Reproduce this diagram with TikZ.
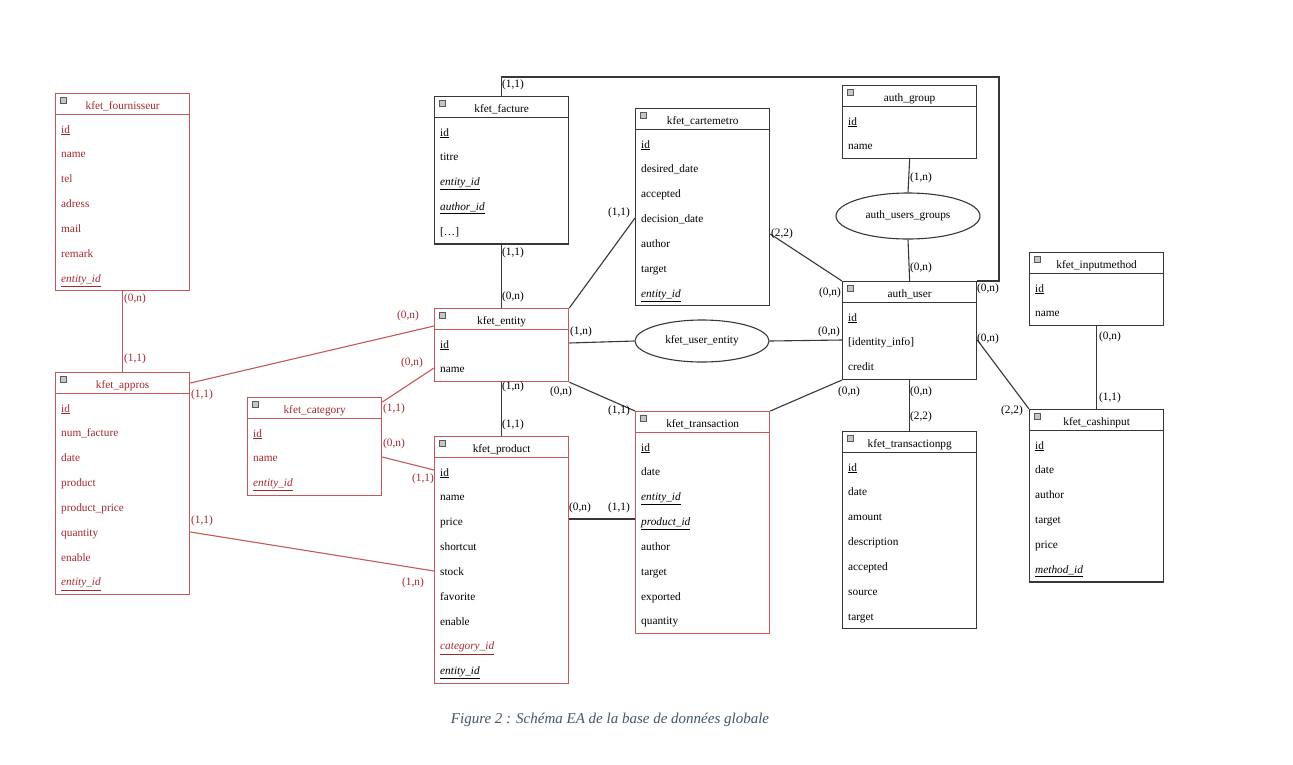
\documentclass[tikz,border=0pt]{standalone}
\usepackage{fontspec}
\setmainfont{Liberation Serif}
\usetikzlibrary{shapes.geometric}
\definecolor{redline}{RGB}{200,88,88}
\definecolor{redtxt}{RGB}{165,40,45}
\definecolor{darkline}{RGB}{55,55,55}
\definecolor{captxt}{RGB}{68,84,106}
\tikzset{
 tab/.style={draw, line width=1.3pt, minimum width=134pt, inner sep=0pt, rectangle},
 hdrline/.style={line width=0.9pt},
 icon/.style={draw=gray!70!black, fill=gray!45, minimum width=6pt, minimum height=5.5pt, inner sep=0pt, line width=0.5pt},
 ttl/.style={font=\fontsize{11.3}{13}\selectfont, inner sep=0pt, anchor=base},
 attr/.style={font=\fontsize{11.3}{13}\selectfont, inner sep=0pt, anchor=base west},
 card/.style={font=\fontsize{11.3}{13}\selectfont, inner sep=0pt, anchor=west},
 cardr/.style={card, text=redtxt},
 rel/.style={ellipse, draw=darkline, line width=1.1pt, inner sep=0pt, font=\fontsize{11.3}{13}\selectfont},
 lk/.style={line width=1.1pt, draw=darkline},
 lkr/.style={line width=1.1pt, draw=redline},
}
\newcommand{\ertab}[8]{%
 \pgfmathsetmacro{\tabh}{48+24.85*(#4-1)}%
 \node[tab, draw=#5, minimum height=\tabh pt, anchor=north west] (#1) at (#2,#3) {};
 \draw[hdrline, draw=#5] ([yshift=-21pt]#1.north west) -- ([yshift=-21pt]#1.north east);
 \node[icon] (#1-icon) at ([xshift=8pt,yshift=-7pt]#1.north west) {};
 \node[ttl, text=#6] (#1-title) at ([yshift=-16pt]#1.north) {#7};
 \foreach \r [count=\i] in {#8} {
   \node[attr, text=#6] (#1-\i) at ([xshift=6pt,yshift={-40pt-24.85pt*(\i-1)}]#1.north west) {\r};
 }
}
\begin{document}
\begin{tikzpicture}[x=1pt,y=-1pt]
\useasboundingbox (0,0) rectangle (1293,764);
\fill[white] (0,0) rectangle (1293,764);

\ertab{fournisseur}{55}{93}{7}{redline}{redtxt}{kfet\_fournisseur}{\underline{id}, name, tel, adress, mail, remark, \underline{\textit{entity\_id}}}
\ertab{approx}{55}{372}{8}{redline}{redtxt}{kfet\_appros}{\underline{id}, num\_facture, date, product, product\_price, quantity, enable, \underline{\textit{entity\_id}}}
\ertab{category}{247}{397}{3}{redline}{redtxt}{kfet\_category}{\underline{id}, name, \underline{\textit{entity\_id}}}
\ertab{facture}{434}{96}{5}{darkline}{black}{kfet\_facture}{\underline{id}, titre, \underline{\textit{entity\_id}}, \underline{\textit{author\_id}}, {[\ldots]}}
\ertab{entity}{434}{308}{2}{redline}{black}{kfet\_entity}{\underline{id}, name}
\ertab{product}{434}{436}{9}{redline}{black}{kfet\_product}{\underline{id}, name, price, shortcut, stock, favorite, enable, \textcolor{redtxt}{\underline{\textit{category\_id}}}, \underline{\textit{entity\_id}}}
\ertab{cartemetro}{635}{108}{7}{darkline}{black}{kfet\_cartemetro}{\underline{id}, desired\_date, accepted, decision\_date, author, target, \underline{\textit{entity\_id}}}
\ertab{transaction}{635}{411}{8}{redline}{black}{kfet\_transaction}{\underline{id}, date, \underline{\textit{entity\_id}}, \underline{\textit{product\_id}}, author, target, exported, quantity}
\ertab{authgroup}{842}{85}{2}{darkline}{black}{auth\_group}{\underline{id}, name}
\ertab{authuser}{842}{281}{3}{darkline}{black}{auth\_user}{\underline{id}, {[identity\_info]}, credit}
\ertab{transactionpg}{842}{431}{7}{darkline}{black}{kfet\_transactionpg}{\underline{id}, date, amount, description, accepted, source, target}
\ertab{inputmethod}{1029}{252}{2}{darkline}{black}{kfet\_inputmethod}{\underline{id}, name}
\ertab{cashinput}{1029}{409}{6}{darkline}{black}{kfet\_cashinput}{\underline{id}, date, author, target, price, \underline{\textit{method\_id}}}

\node[rel, minimum width=144pt, minimum height=46pt] (ug) at (908,216) {auth\_users\_groups};
\node[rel, minimum width=134pt, minimum height=42pt] (ue) at (702,341) {kfet\_user\_entity};

% red connectors
\draw[lkr] (fournisseur.south) -- (approx.north);
\draw[lkr] ([yshift=-11pt]approx.north east) -- ([yshift=-18pt]entity.north west);
\draw[lkr] ([yshift=-160pt]approx.north east) -- ([yshift=-135pt]product.north west);
\draw[lkr] ([yshift=-5pt]category.north east) -- ([yshift=-60pt]entity.north west);
\draw[lkr] ([yshift=-60pt]category.north east) -- ([yshift=-34pt]product.north west);
% dark connectors
\draw[lk] (facture.south) -- (entity.north);
\coordinate (loopc) at (999,77);
\draw[lk] (facture.north) |- (loopc) |- (authuser.north east);
\draw[lk] (entity.north east) -- ([yshift=-110pt]cartemetro.north west);
\draw[lk] ([yshift=-126pt]cartemetro.north east) -- (authuser.north west);
\draw[lk] ([yshift=-35pt]entity.north east) -- (ue.west);
\draw[lk] (ue.east) -- ([yshift=-59pt]authuser.north west);
\draw[lk] (entity.south) -- (product.north);
\draw[lk] (entity.south east) -- (transaction.north west);
\draw[lk] ([yshift=-83pt]product.north east) -- ([yshift=-108pt]transaction.north west);
\draw[lk] (transaction.north east) -- (authuser.south west);
\draw[lk] (authgroup.south) -- (ug.north);
\draw[lk] (ug.south) -- (authuser.north);
\draw[lk] (authuser.south) -- (transactionpg.north);
\draw[lk] ([yshift=-59pt]authuser.north east) -- (cashinput.north west);
\draw[lk] (inputmethod.south) -- (cashinput.north);

% cardinalities
\node[cardr] (c1) at (124,299) {(0,n)};
\node[cardr] (c2) at (124,359) {(1,1)};
\node[cardr] (c3) at (191,395) {(1,1)};
\node[cardr] (c4) at (397,316) {(0,n)};
\node[cardr] (c5) at (191,521) {(1,1)};
\node[cardr] (c6) at (402,583) {(1,n)};
\node[cardr] (c7) at (383,409) {(1,1)};
\node[cardr] (c8) at (401,363) {(0,n)};
\node[cardr] (c9) at (383,444) {(0,n)};
\node[cardr] (c10) at (412,479) {(1,1)};
\node[card] (c11) at (502,253) {(1,1)};
\node[card] (c12) at (502,297) {(0,n)};
\node[card] (c13) at (502,85) {(1,1)};
\node[card] (c14) at (977,289) {(0,n)};
\node[card] (c15) at (608,213) {(1,1)};
\node[card] (c16) at (771,234) {(2,2)};
\node[card] (c17) at (819,293) {(0,n)};
\node[card] (c18) at (570,332) {(1,n)};
\node[card] (c19) at (818,332) {(0,n)};
\node[card] (c20) at (502,387) {(1,n)};
\node[card] (c21) at (502,425) {(1,1)};
\node[card] (c22) at (550,392) {(0,n)};
\node[card] (c23) at (608,411) {(1,1)};
\node[card] (c24) at (569,508) {(0,n)};
\node[card] (c25) at (608,508) {(1,1)};
\node[card] (c26) at (838,392) {(0,n)};
\node[card] (c27) at (910,178) {(1,n)};
\node[card] (c28) at (910,268) {(0,n)};
\node[card] (c29) at (910,392) {(0,n)};
\node[card] (c30) at (910,417) {(2,2)};
\node[card] (c31) at (977,339) {(0,n)};
\node[card] (c32) at (1001,411) {(2,2)};
\node[card] (c33) at (1099,337) {(0,n)};
\node[card] (c34) at (1099,398) {(1,1)};

\node[font=\fontsize{15}{18}\selectfont\itshape, text=captxt, inner sep=0pt] (caption) at (610,720) {Figure 2 : Schéma EA de la base de données globale};
\end{tikzpicture}
\end{document}
